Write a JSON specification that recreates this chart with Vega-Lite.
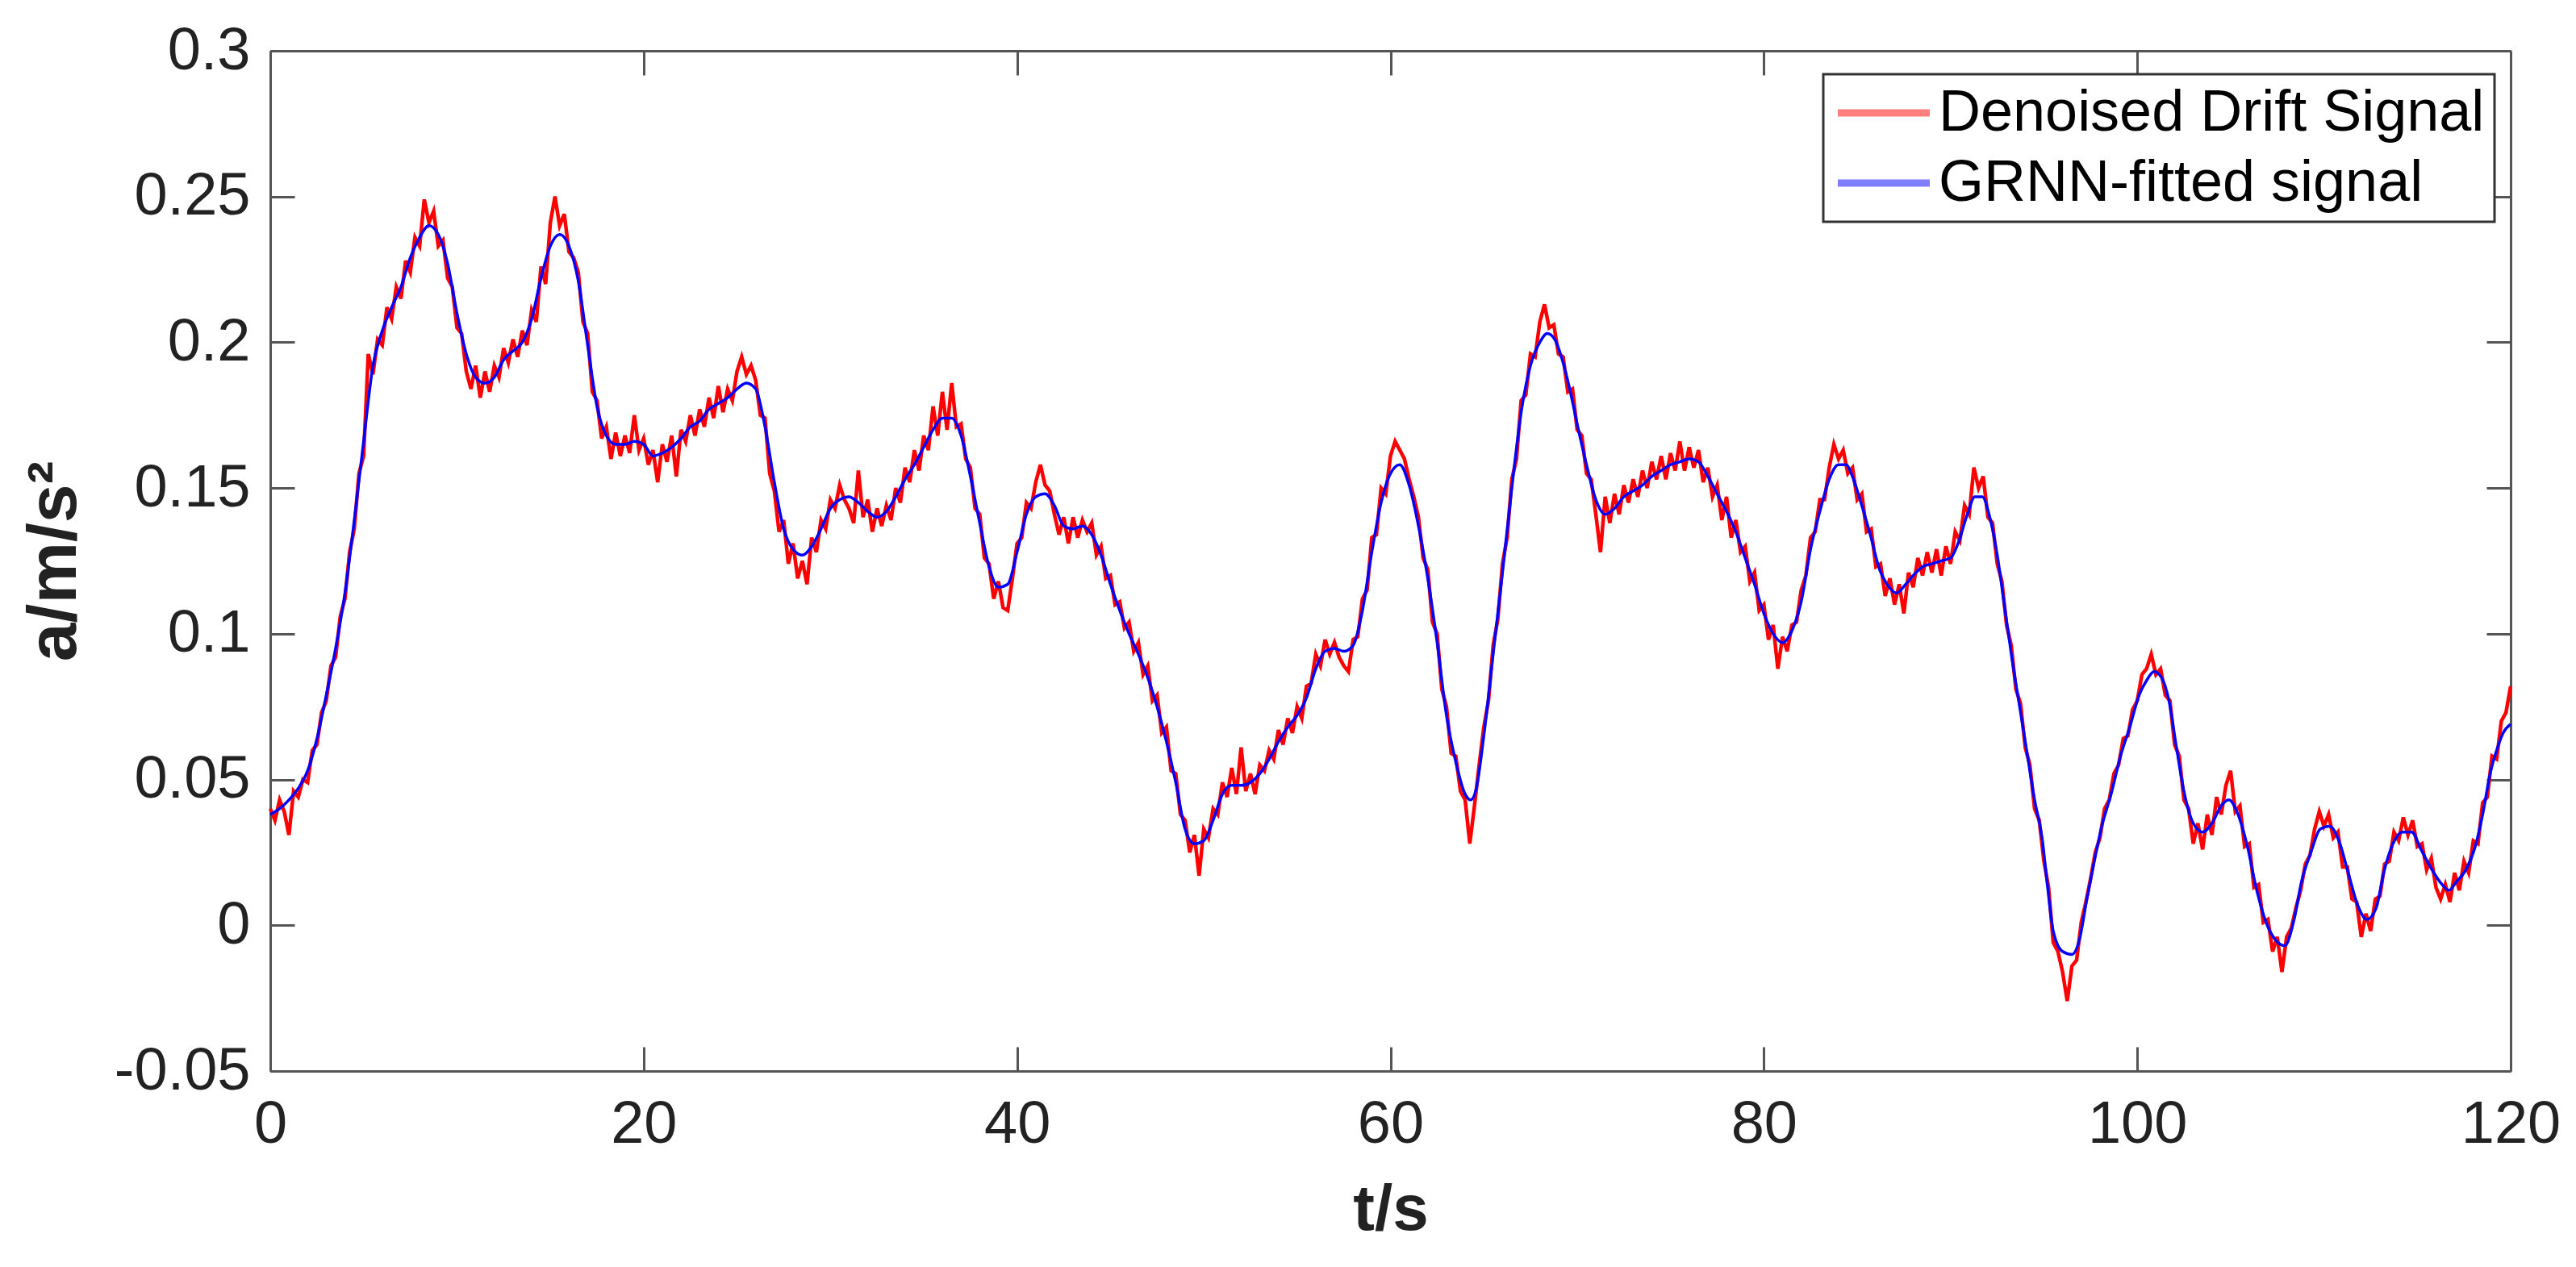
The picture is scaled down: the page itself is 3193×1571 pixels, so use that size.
{
  "$schema": "https://vega.github.io/schema/vega-lite/v6.json",
  "width": 2777,
  "height": 1265,
  "autosize": {"type": "none"},
  "padding": {"left": 335, "top": 63, "right": 81, "bottom": 243},
  "background": "white",
  "config": {"view": {"stroke": null}, "font": "Liberation Sans", "legend": {"strokeWidth": 3}},
  "layer": [
    {
      "data": {"values": [
        {"t":0,"v":0.040},{"t":0.25,"v":0.036},{"t":0.5,"v":0.043},{"t":0.75,"v":0.039},{"t":1,"v":0.031},{"t":1.25,"v":0.046},{"t":1.5,"v":0.044},{"t":1.75,"v":0.050},
        {"t":2,"v":0.049},{"t":2.25,"v":0.060},{"t":2.5,"v":0.062},{"t":2.75,"v":0.073},{"t":3,"v":0.077},{"t":3.25,"v":0.089},{"t":3.5,"v":0.092},{"t":3.75,"v":0.106},
        {"t":4,"v":0.112},{"t":4.25,"v":0.128},{"t":4.5,"v":0.136},{"t":4.75,"v":0.155},{"t":5,"v":0.161},{"t":5.25,"v":0.196},{"t":5.5,"v":0.189},{"t":5.75,"v":0.201},
        {"t":6,"v":0.199},{"t":6.25,"v":0.212},{"t":6.5,"v":0.208},{"t":6.75,"v":0.219},{"t":7,"v":0.215},{"t":7.25,"v":0.228},{"t":7.5,"v":0.224},{"t":7.75,"v":0.236},
        {"t":8,"v":0.233},{"t":8.25,"v":0.249},{"t":8.5,"v":0.241},{"t":8.75,"v":0.245},{"t":9,"v":0.233},{"t":9.25,"v":0.235},{"t":9.5,"v":0.222},{"t":9.75,"v":0.219},
        {"t":10,"v":0.205},{"t":10.25,"v":0.203},{"t":10.5,"v":0.190},{"t":10.75,"v":0.184},{"t":11,"v":0.192},{"t":11.25,"v":0.181},{"t":11.5,"v":0.190},{"t":11.75,"v":0.183},
        {"t":12,"v":0.192},{"t":12.25,"v":0.188},{"t":12.5,"v":0.198},{"t":12.75,"v":0.193},{"t":13,"v":0.201},{"t":13.25,"v":0.195},{"t":13.5,"v":0.204},{"t":13.75,"v":0.199},
        {"t":14,"v":0.211},{"t":14.25,"v":0.207},{"t":14.5,"v":0.226},{"t":14.75,"v":0.220},{"t":15,"v":0.241},{"t":15.25,"v":0.250},{"t":15.5,"v":0.240},{"t":15.75,"v":0.244},
        {"t":16,"v":0.231},{"t":16.25,"v":0.229},{"t":16.5,"v":0.224},{"t":16.75,"v":0.207},{"t":17,"v":0.203},{"t":17.25,"v":0.183},{"t":17.5,"v":0.180},{"t":17.75,"v":0.167},
        {"t":18,"v":0.171},{"t":18.25,"v":0.160},{"t":18.5,"v":0.169},{"t":18.75,"v":0.161},{"t":19,"v":0.168},{"t":19.25,"v":0.162},{"t":19.5,"v":0.175},{"t":19.75,"v":0.163},
        {"t":20,"v":0.167},{"t":20.25,"v":0.158},{"t":20.5,"v":0.163},{"t":20.75,"v":0.152},{"t":21,"v":0.165},{"t":21.25,"v":0.159},{"t":21.5,"v":0.168},{"t":21.75,"v":0.154},
        {"t":22,"v":0.170},{"t":22.25,"v":0.166},{"t":22.5,"v":0.175},{"t":22.75,"v":0.168},{"t":23,"v":0.177},{"t":23.25,"v":0.171},{"t":23.5,"v":0.181},{"t":23.75,"v":0.174},
        {"t":24,"v":0.185},{"t":24.25,"v":0.176},{"t":24.5,"v":0.184},{"t":24.75,"v":0.180},{"t":25,"v":0.190},{"t":25.25,"v":0.195},{"t":25.5,"v":0.189},{"t":25.75,"v":0.192},
        {"t":26,"v":0.187},{"t":26.25,"v":0.175},{"t":26.5,"v":0.174},{"t":26.75,"v":0.155},{"t":27,"v":0.149},{"t":27.25,"v":0.135},{"t":27.5,"v":0.139},{"t":27.75,"v":0.124},
        {"t":28,"v":0.131},{"t":28.25,"v":0.119},{"t":28.5,"v":0.125},{"t":28.75,"v":0.117},{"t":29,"v":0.133},{"t":29.25,"v":0.128},{"t":29.5,"v":0.139},{"t":29.75,"v":0.136},
        {"t":30,"v":0.146},{"t":30.25,"v":0.143},{"t":30.5,"v":0.151},{"t":30.75,"v":0.146},{"t":31,"v":0.143},{"t":31.25,"v":0.138},{"t":31.5,"v":0.156},{"t":31.75,"v":0.140},
        {"t":32,"v":0.146},{"t":32.25,"v":0.135},{"t":32.5,"v":0.143},{"t":32.75,"v":0.137},{"t":33,"v":0.144},{"t":33.25,"v":0.139},{"t":33.5,"v":0.150},{"t":33.75,"v":0.145},
        {"t":34,"v":0.157},{"t":34.25,"v":0.152},{"t":34.5,"v":0.163},{"t":34.75,"v":0.156},{"t":35,"v":0.168},{"t":35.25,"v":0.163},{"t":35.5,"v":0.178},{"t":35.75,"v":0.168},
        {"t":36,"v":0.183},{"t":36.25,"v":0.170},{"t":36.5,"v":0.186},{"t":36.75,"v":0.171},{"t":37,"v":0.172},{"t":37.25,"v":0.160},{"t":37.5,"v":0.157},{"t":37.75,"v":0.143},
        {"t":38,"v":0.141},{"t":38.25,"v":0.126},{"t":38.5,"v":0.124},{"t":38.75,"v":0.112},{"t":39,"v":0.118},{"t":39.25,"v":0.109},{"t":39.5,"v":0.108},{"t":39.75,"v":0.119},
        {"t":40,"v":0.131},{"t":40.25,"v":0.133},{"t":40.5,"v":0.145},{"t":40.75,"v":0.143},{"t":41,"v":0.152},{"t":41.25,"v":0.158},{"t":41.5,"v":0.151},{"t":41.75,"v":0.149},
        {"t":42,"v":0.141},{"t":42.25,"v":0.134},{"t":42.5,"v":0.140},{"t":42.75,"v":0.131},{"t":43,"v":0.140},{"t":43.25,"v":0.133},{"t":43.5,"v":0.139},{"t":43.75,"v":0.135},
        {"t":44,"v":0.138},{"t":44.25,"v":0.127},{"t":44.5,"v":0.130},{"t":44.75,"v":0.119},{"t":45,"v":0.120},{"t":45.25,"v":0.110},{"t":45.5,"v":0.111},{"t":45.75,"v":0.102},
        {"t":46,"v":0.104},{"t":46.25,"v":0.094},{"t":46.5,"v":0.097},{"t":46.75,"v":0.086},{"t":47,"v":0.089},{"t":47.25,"v":0.077},{"t":47.5,"v":0.079},{"t":47.75,"v":0.066},
        {"t":48,"v":0.068},{"t":48.25,"v":0.053},{"t":48.5,"v":0.052},{"t":48.75,"v":0.038},{"t":49,"v":0.036},{"t":49.25,"v":0.025},{"t":49.5,"v":0.031},{"t":49.75,"v":0.017},
        {"t":50,"v":0.033},{"t":50.25,"v":0.030},{"t":50.5,"v":0.040},{"t":50.75,"v":0.038},{"t":51,"v":0.049},{"t":51.25,"v":0.044},{"t":51.5,"v":0.054},{"t":51.75,"v":0.045},
        {"t":52,"v":0.061},{"t":52.25,"v":0.046},{"t":52.5,"v":0.052},{"t":52.75,"v":0.045},{"t":53,"v":0.055},{"t":53.25,"v":0.053},{"t":53.5,"v":0.060},{"t":53.75,"v":0.057},
        {"t":54,"v":0.067},{"t":54.25,"v":0.062},{"t":54.5,"v":0.071},{"t":54.75,"v":0.066},{"t":55,"v":0.075},{"t":55.25,"v":0.071},{"t":55.5,"v":0.082},{"t":55.75,"v":0.083},
        {"t":56,"v":0.093},{"t":56.25,"v":0.089},{"t":56.5,"v":0.098},{"t":56.75,"v":0.093},{"t":57,"v":0.097},{"t":57.25,"v":0.092},{"t":57.5,"v":0.089},{"t":57.75,"v":0.087},
        {"t":58,"v":0.098},{"t":58.25,"v":0.099},{"t":58.5,"v":0.112},{"t":58.75,"v":0.115},{"t":59,"v":0.133},{"t":59.25,"v":0.134},{"t":59.5,"v":0.150},{"t":59.75,"v":0.148},
        {"t":60,"v":0.161},{"t":60.25,"v":0.166},{"t":60.5,"v":0.163},{"t":60.75,"v":0.160},{"t":61,"v":0.153},{"t":61.25,"v":0.147},{"t":61.5,"v":0.140},{"t":61.75,"v":0.126},
        {"t":62,"v":0.122},{"t":62.25,"v":0.104},{"t":62.5,"v":0.100},{"t":62.75,"v":0.081},{"t":63,"v":0.075},{"t":63.25,"v":0.059},{"t":63.5,"v":0.058},{"t":63.75,"v":0.046},
        {"t":64,"v":0.043},{"t":64.25,"v":0.028},{"t":64.5,"v":0.041},{"t":64.75,"v":0.055},{"t":65,"v":0.068},{"t":65.25,"v":0.077},{"t":65.5,"v":0.096},{"t":65.75,"v":0.105},
        {"t":66,"v":0.124},{"t":66.25,"v":0.133},{"t":66.5,"v":0.153},{"t":66.75,"v":0.160},{"t":67,"v":0.180},{"t":67.25,"v":0.182},{"t":67.5,"v":0.196},{"t":67.75,"v":0.195},
        {"t":68,"v":0.207},{"t":68.25,"v":0.213},{"t":68.5,"v":0.205},{"t":68.75,"v":0.206},{"t":69,"v":0.196},{"t":69.25,"v":0.195},{"t":69.5,"v":0.183},{"t":69.75,"v":0.184},
        {"t":70,"v":0.170},{"t":70.25,"v":0.168},{"t":70.5,"v":0.155},{"t":70.75,"v":0.153},{"t":71,"v":0.141},{"t":71.25,"v":0.128},{"t":71.5,"v":0.147},{"t":71.75,"v":0.138},
        {"t":72,"v":0.148},{"t":72.25,"v":0.141},{"t":72.5,"v":0.151},{"t":72.75,"v":0.145},{"t":73,"v":0.153},{"t":73.25,"v":0.147},{"t":73.5,"v":0.156},{"t":73.75,"v":0.150},
        {"t":74,"v":0.159},{"t":74.25,"v":0.153},{"t":74.5,"v":0.161},{"t":74.75,"v":0.153},{"t":75,"v":0.162},{"t":75.25,"v":0.156},{"t":75.5,"v":0.166},{"t":75.75,"v":0.156},
        {"t":76,"v":0.164},{"t":76.25,"v":0.157},{"t":76.5,"v":0.163},{"t":76.75,"v":0.152},{"t":77,"v":0.157},{"t":77.25,"v":0.147},{"t":77.5,"v":0.151},{"t":77.75,"v":0.139},
        {"t":78,"v":0.147},{"t":78.25,"v":0.133},{"t":78.5,"v":0.139},{"t":78.75,"v":0.128},{"t":79,"v":0.130},{"t":79.25,"v":0.118},{"t":79.5,"v":0.121},{"t":79.75,"v":0.108},
        {"t":80,"v":0.110},{"t":80.25,"v":0.098},{"t":80.5,"v":0.103},{"t":80.75,"v":0.088},{"t":81,"v":0.099},{"t":81.25,"v":0.094},{"t":81.5,"v":0.103},{"t":81.75,"v":0.104},
        {"t":82,"v":0.115},{"t":82.25,"v":0.120},{"t":82.5,"v":0.133},{"t":82.75,"v":0.135},{"t":83,"v":0.146},{"t":83.25,"v":0.146},{"t":83.5,"v":0.157},{"t":83.75,"v":0.165},
        {"t":84,"v":0.160},{"t":84.25,"v":0.163},{"t":84.5,"v":0.155},{"t":84.75,"v":0.157},{"t":85,"v":0.146},{"t":85.25,"v":0.148},{"t":85.5,"v":0.135},{"t":85.75,"v":0.136},
        {"t":86,"v":0.123},{"t":86.25,"v":0.124},{"t":86.5,"v":0.113},{"t":86.75,"v":0.119},{"t":87,"v":0.110},{"t":87.25,"v":0.117},{"t":87.5,"v":0.107},{"t":87.75,"v":0.121},
        {"t":88,"v":0.116},{"t":88.25,"v":0.126},{"t":88.5,"v":0.120},{"t":88.75,"v":0.128},{"t":89,"v":0.121},{"t":89.25,"v":0.129},{"t":89.5,"v":0.120},{"t":89.75,"v":0.130},
        {"t":90,"v":0.124},{"t":90.25,"v":0.135},{"t":90.5,"v":0.132},{"t":90.75,"v":0.144},{"t":91,"v":0.141},{"t":91.25,"v":0.157},{"t":91.5,"v":0.150},{"t":91.75,"v":0.154},
        {"t":92,"v":0.140},{"t":92.25,"v":0.138},{"t":92.5,"v":0.124},{"t":92.75,"v":0.118},{"t":93,"v":0.103},{"t":93.25,"v":0.096},{"t":93.5,"v":0.081},{"t":93.75,"v":0.076},
        {"t":94,"v":0.061},{"t":94.25,"v":0.055},{"t":94.5,"v":0.040},{"t":94.75,"v":0.036},{"t":95,"v":0.022},{"t":95.25,"v":0.013},{"t":95.5,"v":-0.006},{"t":95.75,"v":-0.009},
        {"t":96,"v":-0.016},{"t":96.25,"v":-0.026},{"t":96.5,"v":-0.014},{"t":96.75,"v":-0.012},{"t":97,"v":0.001},{"t":97.25,"v":0.008},{"t":97.5,"v":0.016},{"t":97.75,"v":0.025},
        {"t":98,"v":0.030},{"t":98.25,"v":0.040},{"t":98.5,"v":0.043},{"t":98.75,"v":0.052},{"t":99,"v":0.055},{"t":99.25,"v":0.064},{"t":99.5,"v":0.065},{"t":99.75,"v":0.074},
        {"t":100,"v":0.077},{"t":100.25,"v":0.086},{"t":100.5,"v":0.088},{"t":100.75,"v":0.093},{"t":101,"v":0.086},{"t":101.25,"v":0.088},{"t":101.5,"v":0.079},{"t":101.75,"v":0.077},
        {"t":102,"v":0.062},{"t":102.25,"v":0.058},{"t":102.5,"v":0.043},{"t":102.75,"v":0.040},{"t":103,"v":0.028},{"t":103.25,"v":0.035},{"t":103.5,"v":0.026},{"t":103.75,"v":0.038},
        {"t":104,"v":0.031},{"t":104.25,"v":0.044},{"t":104.5,"v":0.038},{"t":104.75,"v":0.048},{"t":105,"v":0.053},{"t":105.25,"v":0.039},{"t":105.5,"v":0.041},{"t":105.75,"v":0.027},
        {"t":106,"v":0.028},{"t":106.25,"v":0.013},{"t":106.5,"v":0.014},{"t":106.75,"v":0.001},{"t":107,"v":0.002},{"t":107.25,"v":-0.009},{"t":107.5,"v":-0.004},{"t":107.75,"v":-0.016},
        {"t":108,"v":-0.004},{"t":108.25,"v":-0.001},{"t":108.5,"v":0.006},{"t":108.75,"v":0.012},{"t":109,"v":0.021},{"t":109.25,"v":0.024},{"t":109.5,"v":0.033},{"t":109.75,"v":0.039},
        {"t":110,"v":0.034},{"t":110.25,"v":0.038},{"t":110.5,"v":0.030},{"t":110.75,"v":0.032},{"t":111,"v":0.020},{"t":111.25,"v":0.020},{"t":111.5,"v":0.009},{"t":111.75,"v":0.008},
        {"t":112,"v":-0.004},{"t":112.25,"v":0.004},{"t":112.5,"v":-0.002},{"t":112.75,"v":0.009},{"t":113,"v":0.010},{"t":113.25,"v":0.021},{"t":113.5,"v":0.022},{"t":113.75,"v":0.032},
        {"t":114,"v":0.029},{"t":114.25,"v":0.037},{"t":114.5,"v":0.031},{"t":114.75,"v":0.036},{"t":115,"v":0.027},{"t":115.25,"v":0.028},{"t":115.5,"v":0.019},{"t":115.75,"v":0.023},
        {"t":116,"v":0.013},{"t":116.25,"v":0.009},{"t":116.5,"v":0.014},{"t":116.75,"v":0.008},{"t":117,"v":0.018},{"t":117.25,"v":0.012},{"t":117.5,"v":0.022},{"t":117.75,"v":0.018},
        {"t":118,"v":0.029},{"t":118.25,"v":0.028},{"t":118.5,"v":0.042},{"t":118.75,"v":0.044},{"t":119,"v":0.058},{"t":119.25,"v":0.057},{"t":119.5,"v":0.070},{"t":119.75,"v":0.073},
        {"t":120,"v":0.082}
      ]},
      "mark": {"type": "line", "strokeWidth": 4.5},
      "encoding": {
        "x": {"field": "t", "type": "quantitative",
          "scale": {"domain": [0, 120], "nice": false, "zero": false},
          "axis": {"orient": "bottom", "values": [0, 20, 40, 60, 80, 100, 120], "format": "d", "title": "t/s", "grid": false,
            "domainColor": "#555555", "domainWidth": 3, "tickColor": "#555555", "tickWidth": 3, "tickSize": -30,
            "labelFont": "Liberation Sans", "labelFontSize": 74, "labelColor": "#222222", "labelPadding": 60, "labelFlush": false, "labelOverlap": false,
            "titleFont": "Liberation Sans", "titleFontSize": 80, "titleFontWeight": "bold", "titleColor": "#222222", "titlePadding": 30}},
        "y": {"field": "v", "type": "quantitative",
          "scale": {"domain": [-0.05, 0.3], "nice": false, "zero": false},
          "axis": {"orient": "left", "values": [-0.05, 0, 0.05, 0.1, 0.15, 0.2, 0.25, 0.3],
            "labelExpr": "replace(format(datum.value, '.2~f'), '\u2212', '-')",
            "title": "a/m/s²", "grid": false,
            "domainColor": "#555555", "domainWidth": 3, "tickColor": "#555555", "tickWidth": 3, "tickSize": -30,
            "labelFont": "Liberation Sans", "labelFontSize": 74, "labelColor": "#222222", "labelPadding": 55, "labelFlush": false, "labelOverlap": false,
            "titleFont": "Liberation Sans", "titleFontSize": 86, "titleFontWeight": "bold", "titleColor": "#222222", "titlePadding": 30}},
        "color": {"datum": "Denoised Drift Signal", "type": "nominal",
          "scale": {"domain": ["Denoised Drift Signal", "GRNN-fitted signal"], "range": ["#FF0000", "#0000FF"]},
          "legend": {"orient": "none", "legendX": 1925, "legendY": 29, "title": null,
            "symbolType": "M-1,0H2.8", "symbolSize": 3600, "symbolStrokeWidth": 9, "symbolOpacity": 0.5,
            "labelFont": "Liberation Sans", "labelFontSize": 72, "labelColor": "#000000", "labelOffset": 59, "labelLimit": 0,
            "rowPadding": 15, "padding": 12, "strokeColor": "#333333", "fillColor": "white", "cornerRadius": 0}}
      }
    },
    {
      "data": {"values": [
        {"t":0,"v":0.038},{"t":0.5,"v":0.040},{"t":1,"v":0.043},{"t":1.5,"v":0.047},{"t":2,"v":0.053},{"t":2.5,"v":0.064},{"t":3,"v":0.079},{"t":3.5,"v":0.095},
        {"t":4,"v":0.114},{"t":4.5,"v":0.139},{"t":5,"v":0.166},{"t":5.5,"v":0.192},{"t":6,"v":0.204},{"t":6.5,"v":0.212},{"t":7,"v":0.219},{"t":7.5,"v":0.229},
        {"t":8,"v":0.236},{"t":8.5,"v":0.240},{"t":9,"v":0.237},{"t":9.5,"v":0.227},{"t":10,"v":0.210},{"t":10.5,"v":0.196},{"t":11,"v":0.188},{"t":11.5,"v":0.186},
        {"t":12,"v":0.188},{"t":12.5,"v":0.194},{"t":13,"v":0.197},{"t":13.5,"v":0.200},{"t":14,"v":0.208},{"t":14.5,"v":0.222},{"t":15,"v":0.233},{"t":15.5,"v":0.237},
        {"t":16,"v":0.233},{"t":16.5,"v":0.221},{"t":17,"v":0.199},{"t":17.5,"v":0.178},{"t":18,"v":0.168},{"t":18.5,"v":0.165},{"t":19,"v":0.165},{"t":19.5,"v":0.166},
        {"t":20,"v":0.165},{"t":20.5,"v":0.161},{"t":21,"v":0.162},{"t":21.5,"v":0.164},{"t":22,"v":0.167},{"t":22.5,"v":0.171},{"t":23,"v":0.173},{"t":23.5,"v":0.177},
        {"t":24,"v":0.179},{"t":24.5,"v":0.181},{"t":25,"v":0.184},{"t":25.5,"v":0.186},{"t":26,"v":0.184},{"t":26.5,"v":0.171},{"t":27,"v":0.152},{"t":27.5,"v":0.136},
        {"t":28,"v":0.129},{"t":28.5,"v":0.127},{"t":29,"v":0.130},{"t":29.5,"v":0.136},{"t":30,"v":0.143},{"t":30.5,"v":0.146},{"t":31,"v":0.147},{"t":31.5,"v":0.145},
        {"t":32,"v":0.142},{"t":32.5,"v":0.140},{"t":33,"v":0.142},{"t":33.5,"v":0.147},{"t":34,"v":0.153},{"t":34.5,"v":0.158},{"t":35,"v":0.164},{"t":35.5,"v":0.170},
        {"t":36,"v":0.174},{"t":36.5,"v":0.174},{"t":37,"v":0.168},{"t":37.5,"v":0.154},{"t":38,"v":0.138},{"t":38.5,"v":0.123},{"t":39,"v":0.116},{"t":39.5,"v":0.117},
        {"t":40,"v":0.128},{"t":40.5,"v":0.141},{"t":41,"v":0.147},{"t":41.5,"v":0.148},{"t":42,"v":0.144},{"t":42.5,"v":0.137},{"t":43,"v":0.136},{"t":43.5,"v":0.137},
        {"t":44,"v":0.134},{"t":44.5,"v":0.127},{"t":45,"v":0.117},{"t":45.5,"v":0.108},{"t":46,"v":0.100},{"t":46.5,"v":0.093},{"t":47,"v":0.085},{"t":47.5,"v":0.075},
        {"t":48,"v":0.063},{"t":48.5,"v":0.049},{"t":49,"v":0.033},{"t":49.5,"v":0.028},{"t":50,"v":0.029},{"t":50.5,"v":0.036},{"t":51,"v":0.045},{"t":51.5,"v":0.048},
        {"t":52,"v":0.048},{"t":52.5,"v":0.049},{"t":53,"v":0.052},{"t":53.5,"v":0.057},{"t":54,"v":0.063},{"t":54.5,"v":0.068},{"t":55,"v":0.072},{"t":55.5,"v":0.078},
        {"t":56,"v":0.088},{"t":56.5,"v":0.094},{"t":57,"v":0.095},{"t":57.5,"v":0.094},{"t":58,"v":0.096},{"t":58.5,"v":0.108},{"t":59,"v":0.128},{"t":59.5,"v":0.145},
        {"t":60,"v":0.155},{"t":60.5,"v":0.158},{"t":61,"v":0.151},{"t":61.5,"v":0.137},{"t":62,"v":0.119},{"t":62.5,"v":0.097},{"t":63,"v":0.072},{"t":63.5,"v":0.056},
        {"t":64,"v":0.045},{"t":64.3,"v":0.043},{"t":64.6,"v":0.047},{"t":65,"v":0.065},{"t":65.5,"v":0.093},{"t":66,"v":0.121},{"t":66.5,"v":0.150},{"t":67,"v":0.176},
        {"t":67.5,"v":0.192},{"t":68,"v":0.200},{"t":68.4,"v":0.203},{"t":68.8,"v":0.201},{"t":69.2,"v":0.194},{"t":69.6,"v":0.184},{"t":70,"v":0.172},{"t":70.5,"v":0.158},
        {"t":71,"v":0.146},{"t":71.5,"v":0.141},{"t":72,"v":0.143},{"t":72.5,"v":0.147},{"t":73,"v":0.149},{"t":73.5,"v":0.151},{"t":74,"v":0.154},{"t":74.5,"v":0.156},
        {"t":75,"v":0.158},{"t":75.5,"v":0.159},{"t":76,"v":0.160},{"t":76.5,"v":0.159},{"t":77,"v":0.154},{"t":77.5,"v":0.148},{"t":78,"v":0.142},{"t":78.5,"v":0.135},
        {"t":79,"v":0.126},{"t":79.5,"v":0.117},{"t":80,"v":0.107},{"t":80.5,"v":0.100},{"t":81,"v":0.097},{"t":81.5,"v":0.101},{"t":82,"v":0.111},{"t":82.5,"v":0.129},
        {"t":83,"v":0.142},{"t":83.5,"v":0.153},{"t":84,"v":0.158},{"t":84.4,"v":0.158},{"t":84.8,"v":0.153},{"t":85.2,"v":0.145},{"t":85.7,"v":0.134},{"t":86.2,"v":0.122},
        {"t":86.6,"v":0.117},{"t":87.1,"v":0.114},{"t":87.6,"v":0.117},{"t":88,"v":0.120},{"t":88.5,"v":0.123},{"t":89,"v":0.124},{"t":89.5,"v":0.125},{"t":90,"v":0.126},
        {"t":90.4,"v":0.131},{"t":90.9,"v":0.141},{"t":91.3,"v":0.147},{"t":91.7,"v":0.147},{"t":92.1,"v":0.140},{"t":92.5,"v":0.127},{"t":92.9,"v":0.109},{"t":93.3,"v":0.091},
        {"t":93.7,"v":0.075},{"t":94.1,"v":0.059},{"t":94.5,"v":0.043},{"t":94.9,"v":0.030},{"t":95.2,"v":0.013},{"t":95.5,"v":-0.002},{"t":96,"v":-0.009},{"t":96.5,"v":-0.010},
        {"t":96.9,"v":-0.005},{"t":97.3,"v":0.009},{"t":97.7,"v":0.022},{"t":98.1,"v":0.034},{"t":98.6,"v":0.045},{"t":99.1,"v":0.058},{"t":99.6,"v":0.068},{"t":100.1,"v":0.079},
        {"t":100.5,"v":0.084},{"t":100.9,"v":0.087},{"t":101.3,"v":0.085},{"t":101.7,"v":0.077},{"t":102.1,"v":0.061},{"t":102.5,"v":0.046},{"t":103,"v":0.035},{"t":103.5,"v":0.032},
        {"t":104,"v":0.035},{"t":104.5,"v":0.041},{"t":104.9,"v":0.043},{"t":105.4,"v":0.038},{"t":105.9,"v":0.027},{"t":106.4,"v":0.012},{"t":106.9,"v":0.001},{"t":107.4,"v":-0.005},
        {"t":107.9,"v":-0.007},{"t":108.4,"v":0.002},{"t":108.8,"v":0.015},{"t":109.3,"v":0.025},{"t":109.8,"v":0.033},{"t":110.3,"v":0.034},{"t":110.8,"v":0.029},{"t":111.3,"v":0.018},
        {"t":111.8,"v":0.007},{"t":112.3,"v":0.002},{"t":112.8,"v":0.006},{"t":113.2,"v":0.018},{"t":113.7,"v":0.028},{"t":114.2,"v":0.032},{"t":114.7,"v":0.032},{"t":115.2,"v":0.026},
        {"t":115.7,"v":0.020},{"t":116.2,"v":0.015},{"t":116.7,"v":0.012},{"t":117.1,"v":0.015},{"t":117.6,"v":0.019},{"t":118.1,"v":0.027},{"t":118.5,"v":0.038},{"t":118.9,"v":0.052},
        {"t":119.3,"v":0.061},{"t":119.6,"v":0.066},{"t":120,"v":0.069}
      ]},
      "mark": {"type": "line", "strokeWidth": 3.5, "interpolate": "monotone"},
      "encoding": {
        "x": {"field": "t", "type": "quantitative",
          "axis": {"orient": "top", "values": [0, 20, 40, 60, 80, 100, 120], "labels": false, "title": null, "grid": false,
            "domainColor": "#555555", "domainWidth": 3, "tickColor": "#555555", "tickWidth": 3, "tickSize": -30}},
        "y": {"field": "v", "type": "quantitative",
          "axis": {"orient": "right", "values": [-0.05, 0, 0.05, 0.1, 0.15, 0.2, 0.25, 0.3], "labels": false, "title": null, "grid": false,
            "domainColor": "#555555", "domainWidth": 3, "tickColor": "#555555", "tickWidth": 3, "tickSize": -30}},
        "color": {"datum": "GRNN-fitted signal", "type": "nominal"}
      }
    }
  ],
  "resolve": {"axis": {"x": "independent", "y": "independent"}}
}
